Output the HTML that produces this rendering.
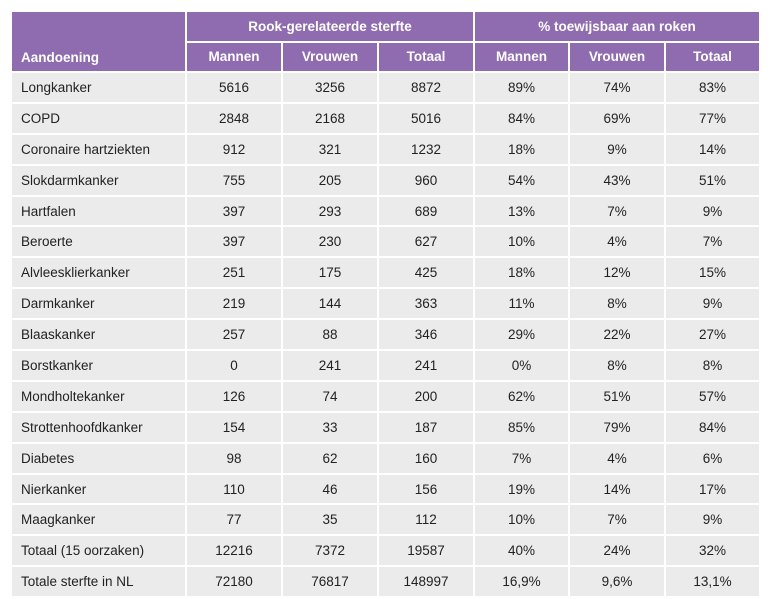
<!DOCTYPE html>
<html><head><meta charset="utf-8"><style>
body{margin:0;background:#fff;width:770px;height:599px;overflow:hidden;font-family:"Liberation Sans",sans-serif;}
table{position:absolute;left:10px;top:10px;border-collapse:collapse;table-layout:fixed;width:749px;}
td,th{border:2px solid #fff;padding:0;font-size:13.5px;color:#222;text-align:center;height:28.9px;background:#ebebeb;}
th{background:#8f6bb0;color:#fff;font-weight:bold;font-size:13.5px;height:28.5px;}
td:first-child{text-align:left;padding-left:9px;}
th.l{text-align:left;padding-left:9px;vertical-align:bottom;padding-bottom:6px;}
</style></head><body>
<table>
<colgroup><col style="width:175px"><col style="width:96px"><col style="width:96px"><col style="width:96px"><col style="width:95px"><col style="width:96px"><col style="width:95px"></colgroup>
<thead>
<tr><th class="l" rowspan="2">Aandoening</th><th colspan="3">Rook-gerelateerde sterfte</th><th colspan="3">% toewijsbaar aan roken</th></tr>
<tr><th>Mannen</th><th>Vrouwen</th><th>Totaal</th><th>Mannen</th><th>Vrouwen</th><th>Totaal</th></tr>
</thead>
<tbody id="tb"></tbody>
</table>
<script>
const rows=[
["Longkanker","5616","3256","8872","89%","74%","83%"],
["COPD","2848","2168","5016","84%","69%","77%"],
["Coronaire hartziekten","912","321","1232","18%","9%","14%"],
["Slokdarmkanker","755","205","960","54%","43%","51%"],
["Hartfalen","397","293","689","13%","7%","9%"],
["Beroerte","397","230","627","10%","4%","7%"],
["Alvleesklierkanker","251","175","425","18%","12%","15%"],
["Darmkanker","219","144","363","11%","8%","9%"],
["Blaaskanker","257","88","346","29%","22%","27%"],
["Borstkanker","0","241","241","0%","8%","8%"],
["Mondholtekanker","126","74","200","62%","51%","57%"],
["Strottenhoofdkanker","154","33","187","85%","79%","84%"],
["Diabetes","98","62","160","7%","4%","6%"],
["Nierkanker","110","46","156","19%","14%","17%"],
["Maagkanker","77","35","112","10%","7%","9%"],
["Totaal (15 oorzaken)","12216","7372","19587","40%","24%","32%"],
["Totale sterfte in NL","72180","76817","148997","16,9%","9,6%","13,1%"]];
const tb=document.getElementById('tb');
rows.forEach(r=>{const tr=document.createElement('tr');


r.forEach(v=>{const td=document.createElement('td');td.textContent=v;


tr.appendChild(td);});tb.appendChild(tr);});
</script>
</body></html>
